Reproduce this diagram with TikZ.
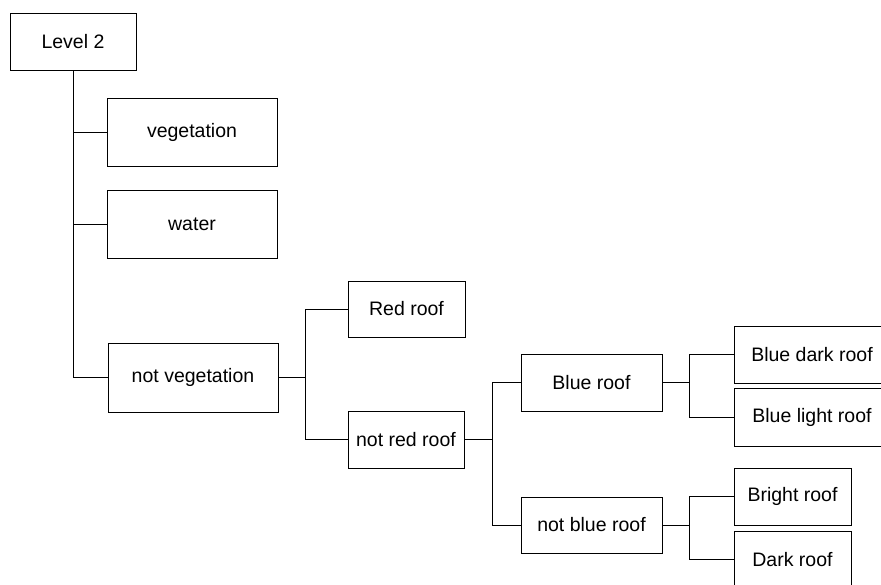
\documentclass[tikz,border=0pt]{standalone}
\usepackage{fontspec}
\setmainfont{Liberation Sans}
\begin{document}
\begin{tikzpicture}[x=1pt,y=-1pt,
  box/.style={draw=black, line width=1pt, rectangle, inner sep=0pt,
    font=\fontsize{19.5}{23}\selectfont, anchor=center},
  link/.style={draw=black, line width=1pt}]
\useasboundingbox (0,0) rectangle (881,584);
% boxes
\node[box, minimum width=126pt, minimum height=57pt] (l2) at (73,41.5) {Level 2};
\node[box, minimum width=170pt, minimum height=68pt] (veg) at (192,132.5) {vegetation};
\node[box, minimum width=170pt, minimum height=68pt] (water) at (192,224) {water};
\node[box, minimum width=170pt, minimum height=69pt] (notveg) at (193,377.5) {not vegetation};
\node[box, minimum width=117pt, minimum height=56pt] (red) at (406.5,309) {Red roof};
\node[box, minimum width=116pt, minimum height=57pt] (notred) at (406,439.5) {not red roof};
\node[box, minimum width=141pt, minimum height=57pt] (blue) at (591.5,382.5) {Blue roof};
\node[box, minimum width=141pt, minimum height=56pt] (notblue) at (591.5,525) {not blue roof};
\node[box, minimum width=156pt, minimum height=57pt] (bdark) at (812,354.5) {Blue dark roof};
\node[box, minimum width=156pt, minimum height=58pt] (blight) at (812,417) {Blue light roof};
\node[box, minimum width=117pt, minimum height=57pt] (bright) at (792.5,496.5) {Bright roof};
\node[box, minimum width=117pt, minimum height=57pt] (dark) at (792.5,559.5) {Dark roof};
% branch points
\coordinate (b1) at (305,377.5);
\coordinate (b2) at (492,439.5);
\coordinate (b3) at (689,382.5);
\coordinate (b4) at (689,525);
% connectors
\draw[link] (l2.south) |- (veg.west);
\draw[link] (l2.south) |- (water.west);
\draw[link] (l2.south) |- (notveg.west);
\draw[link] (notveg.east) -- (b1);
\draw[link] (b1) |- (red.west);
\draw[link] (b1) |- (notred.west);
\draw[link] (notred.east) -- (b2);
\draw[link] (b2) |- (blue.west);
\draw[link] (b2) |- (notblue.west);
\draw[link] (blue.east) -- (b3);
\draw[link] (b3) |- (bdark.west);
\draw[link] (b3) |- (blight.west);
\draw[link] (notblue.east) -- (b4);
\draw[link] (b4) |- (bright.west);
\draw[link] (b4) |- (dark.west);
\end{tikzpicture}
\end{document}
